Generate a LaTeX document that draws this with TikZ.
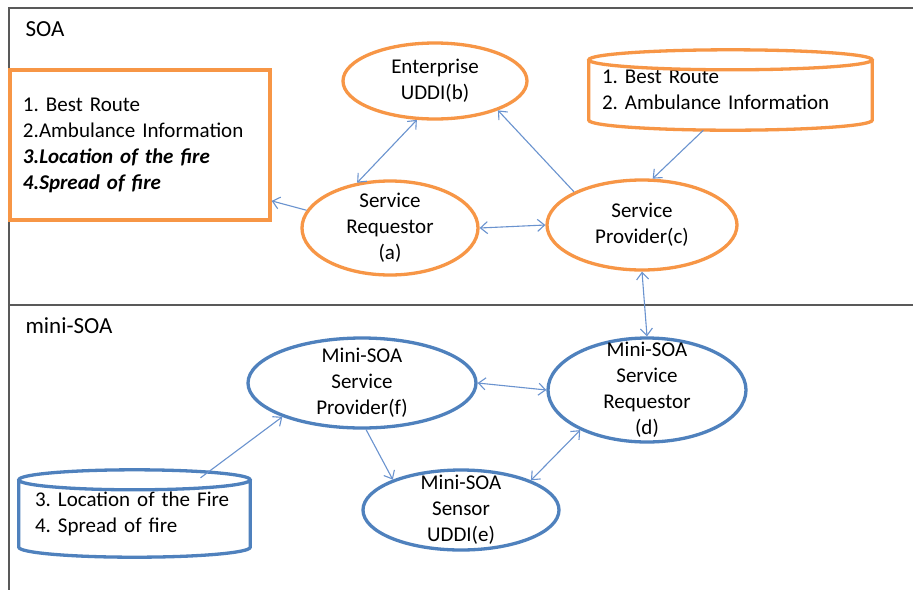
\documentclass[tikz,border=0pt]{standalone}
\usepackage{fontspec}
\setmainfont{Carlito}
\usetikzlibrary{shapes.geometric,arrows.meta,calc}
\definecolor{soaorange}{HTML}{F79646}
\definecolor{soablue}{HTML}{4F81BD}
\definecolor{linkblue}{HTML}{6A93CF}
\definecolor{framegray}{HTML}{595959}
\tikzset{
  txt/.style={font=\fontsize{21}{26}\selectfont\frenchspacing, text=black},
  oval/.style={ellipse, draw, line width=3.3pt, inner sep=0pt,
    label={[txt, align=center]center:#1}},
  soaoval/.style={oval=#1, draw=soaorange},
  minioval/.style={oval=#1, draw=soablue},
  box/.style={rectangle, draw=soaorange, line width=3.3pt, txt, align=left, inner xsep=13pt},
  cylbox/.style={rectangle, draw=none, txt, align=left},
  link/.style={draw=linkblue, line width=1.1pt, -{Straight Barb[length=7pt,width=12pt]}},
  dlink/.style={link, {Straight Barb[length=7pt,width=12pt]}-{Straight Barb[length=7pt,width=12pt]}},
  frame/.style={draw=framegray, line width=2pt},
  area/.style={font=\fontsize{23}{26}\selectfont, anchor=west}
}
% open-topped drum drawn around a named rectangle node
\newcommand\drum[2]{%
  \draw[#2] let \p1=(#1.north west), \p2=(#1.south east),
      \n1={(\x2-\x1)/2} in
    (\x1,\y1-10pt) -- (\x1,\y2+10pt)
      arc[start angle=180, end angle=360, x radius=\n1, y radius=10pt]
      -- (\x2,\y1-10pt)
    ([yshift=-10pt]#1.north) ellipse[x radius=\n1, y radius=10pt];}
\begin{document}
\begin{tikzpicture}[x=1pt,y=1pt]
\useasboundingbox (0,0) rectangle (913,-590);
\fill[white] (0,0) rectangle (913,-590);

% frame and divider between the two layers
\coordinate (ftl) at (9,-8);
\coordinate (ftr) at (913,-8);
\coordinate (fbl) at (9,-590);
\coordinate (dl) at (9,-305);
\coordinate (dr) at (913,-305);
\draw[frame] (ftr) -- (ftl) -- (fbl);
\draw[frame] (dl) -- (dr);
\node[area] (soa) at (22,-29) {SOA};
\node[area] (mini) at (22,-326) {mini-SOA};

% SOA layer
\node[box, text width=234pt, minimum height=150pt] (r) at (140,-145)
  {1. Best Route\\2.Ambulance Information\\\textbf{\textit{3.Location of the fire}}\\\textbf{\textit{4.Spread of fire}}};
\node[soaoval={Enterprise\\UDDI(b)}, minimum width=184pt, minimum height=76pt] (b) at (435,-81) {};
\node[soaoval={Service\\Requestor\\(a)}, minimum width=176pt, minimum height=94pt] (a) at (390,-228) {};
\node[soaoval={Service\\Provider(c)}, minimum width=190pt, minimum height=90pt] (c) at (642,-225) {};
\node[cylbox, text width=257pt, inner xsep=13pt, minimum height=80pt] (cy1) at (730.5,-90)
  {1. Best Route\\2. Ambulance Information};
\drum{cy1}{draw=soaorange, line width=3.3pt}

% mini-SOA layer
\node[minioval={Mini-SOA\\Service\\Provider(f)}, minimum width=228pt, minimum height=90pt] (f) at (362,-383) {};
\node[minioval={Mini-SOA\\Service\\Requestor\\(d)}, minimum width=198pt, minimum height=104pt] (d) at (647,-390) {};
\node[minioval={Mini-SOA\\Sensor\\UDDI(e)}, minimum width=196pt, minimum height=80pt] (e) at (461,-510) {};
\node[cylbox, text width=199pt, inner xsep=16pt, minimum height=87pt] (cy2) at (134.5,-513.5)
  {3. Location of the Fire\\4. Spread of fire};
\drum{cy2}{draw=soablue, line width=3.3pt}

% connectors
\draw[dlink] (a.126) -- (b.245);
\draw[link] (a.168) -- (r.-23);
\draw[dlink] (a.east) -- (c.west);
\draw[link] (c.154) -- (b.-25);
\draw[link] (cy1.-124) -- (c.77);
\draw[dlink] (c.south) -- (d.north);
\draw[link] ([xshift=66pt,yshift=-8pt]cy2.north) -- (f.203);
\draw[link] (f.-85) -- (e.156);
\draw[dlink] (f.east) -- (d.west);
\draw[dlink] (e.23) -- (d.211);
\end{tikzpicture}
\end{document}
